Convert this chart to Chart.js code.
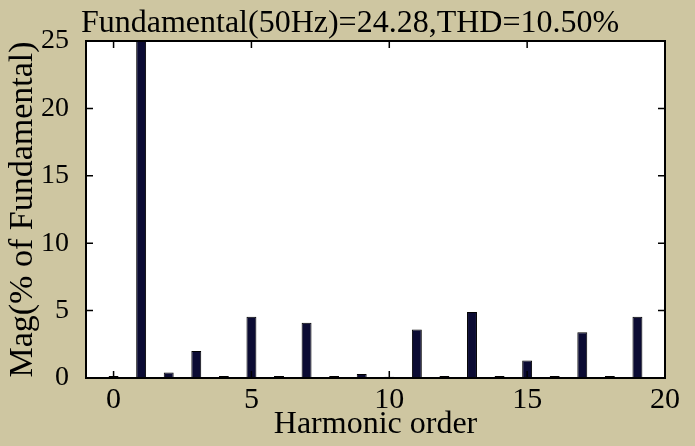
<!DOCTYPE html>
<html>
<head>
<meta charset="utf-8">
<script src="https://cdn.jsdelivr.net/npm/chart.js@4.4.1/dist/chart.umd.min.js"></script>
<style>
  html, body { margin: 0; padding: 0; background: #cec6a1; }
</style>
</head>
<body>
<canvas id="spectre" width="695" height="446"></canvas>
<script>
// harmonic spectrum, % of fundamental
const harmonics = [0, 1, 2, 3, 4, 5, 6, 7, 8, 9, 10, 11, 12, 13, 14, 15, 16, 17, 18, 19];
const magnitudes = [0.15, 100, 0.4, 2.0, 0.15, 4.55, 0.15, 4.1, 0.15, 0.3, 0.1, 3.6, 0.15, 4.9, 0.15, 1.3, 0.15, 3.4, 0.15, 4.55];
const xTicks = [0, 5, 10, 15, 20];
const yTicks = [0, 5, 10, 15, 20, 25];

const serif = "'Liberation Serif', 'Times New Roman', serif";

// frame + inward tick marks
const cadre = {
  id: 'cadre',
  afterDatasetsDraw(chart) {
    const { ctx, chartArea: a, scales: { x, y } } = chart;
    const len = 7;
    ctx.save();
    ctx.strokeStyle = '#000';
    ctx.lineWidth = 1.5;
    ctx.beginPath();
    xTicks.forEach(v => {
      const px = x.getPixelForValue(v);
      ctx.moveTo(px, a.top); ctx.lineTo(px, a.top + len);
      ctx.moveTo(px, a.bottom); ctx.lineTo(px, a.bottom - len);
    });
    yTicks.forEach(v => {
      const py = y.getPixelForValue(v);
      ctx.moveTo(a.left, py); ctx.lineTo(a.left + len, py);
      ctx.moveTo(a.right, py); ctx.lineTo(a.right - len, py);
    });
    ctx.stroke();
    ctx.lineWidth = 2;
    ctx.strokeRect(a.left, a.top, a.right - a.left, a.bottom - a.top);
    ctx.restore();
  }
};

// white plot area
const fond = {
  id: 'fond',
  beforeDraw(chart) {
    const { ctx, chartArea: a } = chart;
    ctx.save();
    ctx.fillStyle = '#ffffff';
    ctx.fillRect(a.left, a.top, a.right - a.left, a.bottom - a.top);
    ctx.restore();
  }
};

const points = harmonics.map((h, i) => ({ x: h, y: magnitudes[i] }));

new Chart(document.getElementById('spectre'), {
  type: 'bar',
  data: {
    datasets: [{
      data: points,
      backgroundColor: '#0b0b33',
      borderColor: '#000000',
      borderWidth: 1,
      barPercentage: 0.36,
      categoryPercentage: 1
    }]
  },
  options: {
    responsive: false,
    animation: false,
    // left padding keeps the title centred like the original
    layout: { padding: { left: 35, right: 30, top: 0, bottom: 0 } },
    plugins: {
      legend: { display: false },
      tooltip: { enabled: false },
      title: {
        display: true,
        text: 'Fundamental(50Hz)=24.28,THD=10.50%',
        color: '#000',
        font: { family: serif, size: 32, weight: 'normal', lineHeight: 1.0 },
        padding: { top: 8, bottom: 1 }
      }
    },
    scales: {
      x: {
        type: 'linear',
        min: -1,
        max: 20,
        offset: false,
        grid: { display: false, offset: false },
        border: { display: false },
        afterBuildTicks: s => { s.ticks = xTicks.map(v => ({ value: v })); },
        afterFit: s => { s.height = 68; },
        ticks: {
          color: '#000',
          padding: -4,
          maxRotation: 0,
          font: { family: serif, size: 30 }
        },
        title: {
          display: true,
          text: 'Harmonic order',
          color: '#000',
          font: { family: serif, size: 32, lineHeight: 1.0 },
          padding: { top: 0, bottom: 5 }
        }
      },
      y: {
        min: 0,
        max: 25,
        grid: { display: false },
        border: { display: false },
        afterBuildTicks: s => { s.ticks = yTicks.map(v => ({ value: v })); },
        afterFit: s => { s.width = 51; },
        ticks: {
          color: '#000',
          padding: 9,
          font: { family: serif, size: 28 }
        },
        title: {
          display: true,
          text: 'Mag(% of Fundamental)',
          color: '#000',
          font: { family: serif, size: 34, lineHeight: 1.0 },
          padding: { top: -29, bottom: 0 }
        }
      }
    }
  },
  plugins: [fond, cadre]
});
</script>
</body>
</html>
